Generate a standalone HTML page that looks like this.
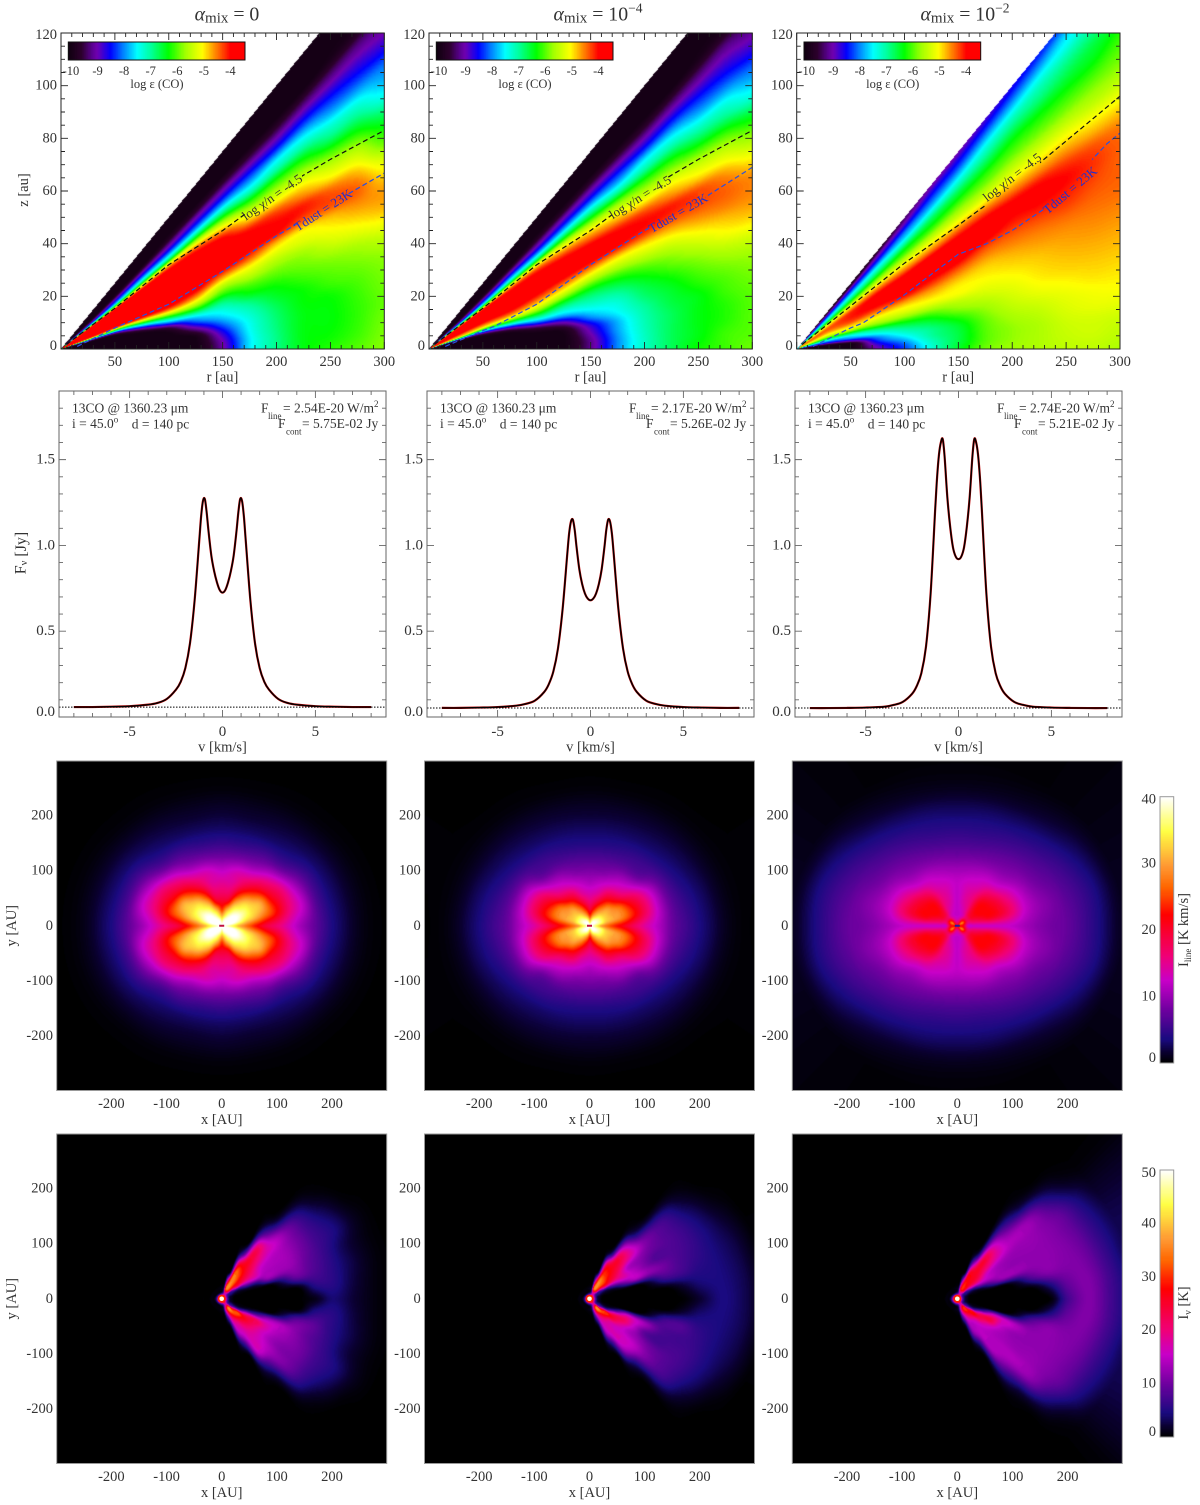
<!DOCTYPE html>
<html lang="en">
<head>
<meta charset="utf-8">
<title>CO abundance and line emission for three mixing strengths</title>
<style>
html,body{margin:0;padding:0;background:#fff;}
#figure{position:relative;width:1200px;height:1505px;overflow:hidden;background:#fff;filter:blur(0.35px);}
#figure canvas{position:absolute;display:block;}
#overlay{position:absolute;left:0;top:0;}
#overlay text{font-family:"Liberation Serif","DejaVu Serif",serif;fill:#333;}
</style>
</head>
<body>
<div id="figure">
<canvas id="abund0"></canvas>
<canvas id="abund1"></canvas>
<canvas id="abund2"></canvas>
<canvas id="abundbar0"></canvas>
<canvas id="abundbar1"></canvas>
<canvas id="abundbar2"></canvas>
<canvas id="mom0"></canvas>
<canvas id="mom1"></canvas>
<canvas id="mom2"></canvas>
<canvas id="chan0"></canvas>
<canvas id="chan1"></canvas>
<canvas id="chan2"></canvas>
<canvas id="mombar"></canvas>
<canvas id="chanbar"></canvas>
<svg id="overlay" width="1200" height="1505" xmlns="http://www.w3.org/2000/svg"></svg>
</div>
<script>
/* ---------- abundance maps: log eps(CO) on (radius, z/r) ---------- */
const abundRadii=[25,50,75,100,125,150,175,200,225,250,275,300];
const abundSlopes=[0,.02,.04,.06,.08,.1,.12,.14,.16,.18,.2,.22,.24,.26,.28,.3,.32,.34,.36,.38,.4,.42,.44,.46,.48,.5];
const logEpsAlpha0=[
[-10,-10,-10,-10,-10,-10,-9,-6,-4,-4,-4,-4,-4,-4,-4,-4,-6.5,-8,-9,-9.6,-10,-10,-10,-10,-10,-10],
[-10,-10,-10,-10,-10,-10,-9,-6.5,-4.2,-3.8,-3.8,-3.8,-3.8,-3.8,-3.8,-3.8,-6,-7.7,-8.5,-9.2,-9.8,-10,-10,-10,-10,-10],
[-10,-10,-10,-10,-10,-9.2,-7.5,-5.5,-4,-3.9,-3.9,-3.9,-3.9,-3.9,-3.9,-3.9,-5.3,-7,-8,-8.8,-9.5,-10,-10,-10,-10,-10],
[-10,-10,-10,-10,-9.5,-8,-6.5,-5,-4,-3.9,-3.9,-3.9,-3.9,-3.9,-3.9,-4,-5,-6.8,-7.9,-8.7,-9.3,-9.8,-10,-10,-10,-10],
[-10,-10,-9.9,-9.2,-8.3,-7.5,-6.3,-5.3,-4.5,-3.9,-3.8,-3.8,-3.8,-3.8,-3.8,-4.2,-5.2,-6.5,-7.7,-8.5,-9.1,-9.7,-10,-10,-10,-10],
[-9.1,-9,-8.7,-8.2,-7.7,-7.3,-6.8,-6.1,-5.5,-4.7,-4,-3.8,-3.8,-3.8,-4,-4.7,-5.6,-6.6,-7.6,-8.4,-9,-9.6,-10,-10,-10,-10],
[-7.6,-7.6,-7.5,-7.4,-7.2,-6.9,-6.4,-6,-5.5,-5,-4.3,-3.9,-3.9,-4.1,-4.8,-5.5,-6.2,-7.1,-7.8,-8.4,-9,-9.6,-10,-10,-10,-10],
[-6.9,-6.9,-6.85,-6.8,-6.7,-6.5,-6.3,-6,-5.7,-5.3,-4.8,-4,-4,-4.3,-5,-5.6,-6.2,-7,-7.6,-8.4,-9,-9.6,-10,-10,-10,-10],
[-6.4,-6.4,-6.4,-6.4,-6.35,-6.3,-6.1,-5.9,-5.7,-5.3,-5,-4.3,-4.1,-4.6,-5.1,-5.7,-6.3,-7,-7.6,-8.3,-8.9,-9.5,-10,-10,-10,-10],
[-6.2,-6.3,-6.35,-6.35,-6.3,-6.1,-5.95,-5.75,-5.4,-5.1,-4.8,-4.3,-4.4,-5,-5.5,-6.1,-6.8,-7.3,-7.9,-8.4,-8.9,-9.4,-9.9,-10,-10,-10],
[-6,-6.1,-6.15,-6.15,-6.1,-6,-5.85,-5.65,-5.25,-4.9,-4.6,-4.4,-4.7,-5.2,-5.7,-6.3,-6.9,-7.4,-8,-8.5,-8.9,-9.3,-9.8,-10,-10,-10],
[-5.8,-5.85,-5.9,-5.95,-5.9,-5.85,-5.75,-5.5,-5.1,-4.75,-4.65,-4.9,-5.3,-5.9,-6.3,-6.8,-7.4,-7.8,-8.1,-8.6,-9,-9.3,-9.7,-10,-10,-10]];
const logEpsAlpha1=[
[-10,-10,-10,-10,-10,-10,-9.5,-7,-5,-4.5,-4,-4,-4,-4,-4,-4.2,-6.5,-8,-9,-9.6,-10,-10,-10,-10,-10,-10],
[-10,-10,-10,-10,-10,-9.9,-9,-7,-5.2,-4.5,-4,-3.9,-3.9,-3.9,-3.9,-4.1,-6,-7.6,-8.5,-9.2,-9.8,-10,-10,-10,-10,-10],
[-10,-10,-10,-10,-10,-9.3,-7.8,-6.2,-5,-4.3,-3.9,-3.8,-3.8,-3.8,-3.9,-4.2,-5.3,-7,-8,-8.8,-9.5,-10,-10,-10,-10,-10],
[-10,-10,-10,-10,-9.5,-8.2,-7,-6,-5.2,-4.6,-4.1,-3.8,-3.8,-3.8,-3.9,-4.3,-5.2,-6.8,-7.9,-8.7,-9.3,-9.8,-10,-10,-10,-10],
[-10,-10,-10,-9.8,-9,-7.9,-7.2,-6.5,-5.7,-5,-4.4,-3.9,-3.8,-3.8,-4.1,-4.7,-5.5,-6.6,-7.7,-8.5,-9.1,-9.7,-10,-10,-10,-10],
[-9.2,-9.2,-9,-8.7,-8,-7.5,-7.1,-6.7,-6.1,-5.4,-4.7,-4,-3.8,-3.9,-4.4,-5,-5.8,-6.7,-7.6,-8.4,-9,-9.6,-10,-10,-10,-10],
[-8,-8,-7.9,-7.8,-7.5,-7.3,-7,-6.6,-6.1,-5.5,-4.9,-4.1,-3.9,-4.1,-4.7,-5.3,-6,-7,-7.8,-8.4,-9,-9.6,-10,-10,-10,-10],
[-7.2,-7.2,-7.15,-7.1,-7,-6.8,-6.6,-6.3,-5.9,-5.4,-4.9,-4.2,-4,-4.3,-5,-5.6,-6.2,-7,-7.6,-8.4,-9,-9.6,-10,-10,-10,-10],
[-6.7,-6.7,-6.7,-6.7,-6.6,-6.5,-6.3,-6,-5.7,-5.3,-4.8,-4.3,-4.1,-4.6,-5.1,-5.7,-6.3,-7,-7.6,-8.3,-8.9,-9.5,-10,-10,-10,-10],
[-6.3,-6.4,-6.4,-6.4,-6.4,-6.2,-6,-5.75,-5.4,-5,-4.6,-4.3,-4.3,-4.9,-5.4,-6,-6.7,-7.3,-7.9,-8.4,-8.9,-9.4,-9.9,-10,-10,-10],
[-6.1,-6.1,-6.2,-6.2,-6.1,-6,-5.8,-5.5,-5.1,-4.8,-4.5,-4.4,-4.6,-5.1,-5.6,-6.2,-6.9,-7.4,-8,-8.5,-8.9,-9.3,-9.8,-10,-10,-10],
[-5.9,-6,-6,-6,-5.95,-5.85,-5.7,-5.4,-5,-4.7,-4.55,-4.6,-5,-5.5,-6,-6.6,-7.3,-7.8,-8.2,-8.7,-9.1,-9.5,-9.9,-10,-10,-10]];
const logEpsAlpha2=[
[-10,-10,-10,-9.6,-8.7,-8,-7.3,-6.5,-5.8,-5.3,-5,-4.7,-4.5,-4.4,-4.5,-4.8,-5.2,-5.8,-6.5,-7,-7.5,-8,-8.5,-9,-9.6,-10],
[-10,-10,-10,-9,-8,-7.5,-6.6,-5.7,-5.1,-4.8,-4.4,-4.2,-4.1,-4.1,-4.2,-4.6,-5,-5.6,-6.2,-6.8,-7.3,-7.8,-8.3,-8.8,-9.5,-10],
[-9,-8.8,-8.4,-8,-7.4,-6.8,-6,-5.5,-5.1,-4.7,-4.3,-4,-3.9,-3.9,-4,-4.4,-4.9,-5.5,-6,-6.6,-7.1,-7.6,-8.2,-8.7,-9.2,-9.8],
[-8.3,-8.1,-7.7,-7.3,-6.9,-6.4,-5.8,-5.3,-5,-4.6,-4.1,-3.9,-3.8,-3.8,-4,-4.5,-5,-5.5,-6,-6.4,-7,-7.6,-8,-8.5,-9,-9.4],
[-7.3,-7.2,-7,-6.9,-6.6,-6.2,-5.7,-5.2,-4.9,-4.6,-4.2,-3.9,-3.75,-3.75,-3.9,-4.5,-5,-5.5,-6,-6.4,-6.8,-7.4,-7.9,-8.3,-8.7,-9.1],
[-6.5,-6.6,-6.6,-6.5,-6.2,-5.8,-5.5,-5.1,-5,-4.75,-4.4,-4,-3.75,-3.7,-3.9,-4.4,-5,-5.5,-5.9,-6.3,-6.7,-7.2,-7.7,-8.2,-8.6,-9],
[-5.9,-6,-6,-5.95,-5.8,-5.6,-5.35,-5.15,-5,-4.85,-4.6,-4.3,-3.9,-3.75,-3.9,-4.4,-5,-5.5,-5.9,-6.2,-6.6,-7,-7.4,-7.9,-8.4,-8.8],
[-5.7,-5.75,-5.75,-5.65,-5.5,-5.35,-5.2,-5.05,-4.9,-4.75,-4.55,-4.35,-4.1,-3.95,-4,-4.5,-5,-5.4,-5.8,-6.1,-6.4,-6.8,-7.2,-7.7,-8.2,-8.6],
[-5.6,-5.6,-5.6,-5.5,-5.35,-5.15,-5,-4.9,-4.8,-4.65,-4.5,-4.3,-4.05,-3.9,-4.05,-4.55,-5,-5.4,-5.8,-6.1,-6.4,-6.8,-7.1,-7.5,-8,-8.4],
[-5.5,-5.45,-5.4,-5.3,-5.2,-5.05,-4.9,-4.8,-4.7,-4.6,-4.45,-4.25,-4.1,-4,-4.2,-4.6,-5,-5.4,-5.8,-6.1,-6.4,-6.7,-7,-7.4,-7.7,-8.2],
[-5.5,-5.4,-5.35,-5.2,-5.1,-4.95,-4.85,-4.75,-4.65,-4.55,-4.45,-4.35,-4.25,-4.2,-4.35,-4.75,-5.1,-5.5,-5.8,-6.1,-6.4,-6.6,-6.9,-7.2,-7.6,-8],
[-5.6,-5.5,-5.4,-5.2,-5.05,-4.95,-4.85,-4.75,-4.65,-4.55,-4.45,-4.4,-4.4,-4.4,-4.5,-4.8,-5.15,-5.5,-5.8,-6,-6.2,-6.5,-6.8,-7.1,-7.5,-7.9]];

/* contour lines: radius, height in au */
const chiRadii=[[5,50,100,150,200,250,300],[5,50,100,150,200,250,300],[5,50,100,150,200,250,300]];
const chiHeights=[[1.7,15.5,32,45,60,72,83],[1.7,15.5,32,45,60,72,83],[1.7,16.3,32.6,47,62,79,96]];
const dustRadii=[[15,50,100,150,200,250,300],[15,50,60,100,150,200,250,300],[15,50,62,100,127,150,176,200,229,250,271,288,300]];
const dustHeights=[[1,8,17,29.5,43,55,66.8],[1,7,8.5,17,32,45,56,69],[1,8,10,20.6,29,36,40,45,53,60,70.6,78,82]];

/* line profiles: half of the symmetric spectrum, outside in */
const speedsHalf=[8,7,6,5,4,3.5,3,2.5,2.25,2,1.75,1.5,1.25,1.15,1.05,.95,.85,.75,.6,.45,.3,.15,0];
const fluxAlpha0=[.058,.058,.06,.063,.072,.082,.105,.16,.205,.285,.43,.68,1.03,1.17,1.26,1.27,1.19,1.08,.94,.85,.785,.74,.725];
const fluxAlpha1=[.053,.053,.055,.058,.066,.076,.095,.145,.19,.265,.4,.63,.95,1.07,1.14,1.15,1.09,.99,.86,.775,.72,.69,.68];
const fluxAlpha2=[.052,.052,.053,.055,.06,.07,.088,.135,.18,.255,.41,.72,1.22,1.4,1.53,1.6,1.62,1.52,1.28,1.11,.99,.935,.92];
const continuumFlux=[.0575,.0526,.0521];
const lineFluxText=["2.54E-20","2.17E-20","2.74E-20"];
const contFluxText=["5.75E-02","5.26E-02","5.21E-02"];

/* integrated intensity: K km/s on (angle, radius), one quadrant */
const momAngles=[0,15,30,45,60,75,90];
const momRadii=[0,10,20,30,45,60,80,100,125,150,175,200,250,300];
const momAlpha0=[
[40,38,35,31,27,23,19,16.5,13,9.5,6.5,3.7,.8,0],
[40,40,40,38,34,31.5,27.5,23,16.5,12,6.5,3.5,.8,0],
[40,40,40,40,37,33.5,30.5,22,16.5,10.5,6,3.2,.7,0],
[40,40,40,39,35,32,25,19,13,7,4,2.5,.5,0],
[40,40,38,35,31,25.5,19.5,15,9.5,6,3.3,2,.4,0],
[40,39,34,30,22,18,15,13.5,8.5,5,3,1.7,.3,0],
[40,36,30,24,20,17,14.5,12,8,5,3,1.8,.3,0]];
const momAlpha1=[
[40,36,30,27,23.5,21,17.5,14.3,11.2,7.5,5.5,3.6,.8,0],
[40,38,36,32,30,28,23.5,18.5,12.5,7.5,5,3.3,.7,.1],
[40,40,37,33,30,28,22,17.5,12,7,4.2,2.7,.6,.1],
[40,40,36,32,29,23,16.5,12.5,7.5,5.5,3.5,2.3,.5,0],
[40,39,33,29,24,19.5,14,10.5,6.8,4.8,3.1,2,.4,0],
[40,36,29,24,19,15,12,8.8,6.3,4.2,2.9,1.8,.3,0],
[40,31,23,19.5,16,13.5,10.8,8.5,6,4,2.8,1.7,.3,0]];
const momAlpha2=[
[20,22,12.5,12.5,12.5,12.5,12.5,12,10.5,9,8,7.3,4.2,1],
[20,24,16,17,19,21,20,17,12.5,10,8.5,7,4.2,1],
[20,28,18,20,22,22,20,16,12,9,7.3,6,3.2,.7],
[20,24,17,19,21,21,17.5,13,9.8,8,6.3,4.7,2,.4],
[20,18,14,15,16,16,14,12,9,7,5.3,3.8,1.3,.2],
[20,15,12.5,13,14,14,13,11,8.4,6.2,4.6,3.4,1,.2],
[20,14,12,12,12,12,12,10.5,8,6,4.5,3.2,.9,.2]];

/* channel maps: K on (angle from +x, radius) around the star; rows may omit trailing zeros */
const chanAngles=[0,8,16,24,32,40,48,56,64,72,80,90,120,180];
const chanRadii=[0,10,20,35,50,70,90,115,140,170,200,240,280,320];
const chanUpperAlpha0=[
[50,8,.3,0,0,0,0,0,0,1,4,2,.5],
[50,8,.5,0,0,0,0,0,.2,5,5.5,2.5,.6],
[50,8,1,.3,0,.1,.3,4,9,8,6,3,.8],
[50,9,3,1.5,3,5,12,12,12,9,6.5,3,.8],
[50,10,5,6,12,16,14,13.5,13,10,7,4.5,1.2],
[50,12,8,22,22,20,16,14.5,13.5,10.5,7,3.5,.5],
[50,14,24,28,27,24,21,18,15,10,6,1.5],
[50,16,32,34,32,27,24,20,9,2,.3],
[50,18,36,35,33,24,8,.5],
[50,14,30,20,3,.2],
[50,9,4,.5],
[50,6,1],
[50,4,.3],
[50,6,.5,.1]];
const chanLowerAlpha0=[
[50,8,.3,0,0,0,0,0,0,1,4,2,.5],
[50,8,.5,0,0,0,0,0,.2,5,5.5,2.5,.6],
[50,8,1,.3,0,.1,.3,4,9,9,6,3,.8],
[50,9,3,1.5,4,8,13,14,12,9,6.5,3,.8],
[50,10,6,8,18,22,18,14,12,10,7,4.5,1.2],
[50,14,12,30,27,22,17,13,11,10,7,3.5,.5],
[50,18,32,32,25,20,17,15,12,9.5,6,1.5],
[50,18,36,28,20,17,16,15,7,2,.3],
[50,16,28,20,16,13,6,.5],
[50,12,16,8,2,.2],
[50,8,3,.4],
[50,6,1],
[50,4,.3],
[50,6,.5,.1]];
const chanUpperAlpha1=[
[50,8,.4,0,0,0,0,0,0,.1,2,4.5,3,.5],
[50,8,.6,0,0,0,0,0,.1,2,4,4.5,3,.5],
[50,8,1,.3,0,.1,.3,3,7,7,5.5,4.5,2.8,.3],
[50,9,3,1.5,3,9,14,12,10.5,8,6.5,4.5,2.5,.2],
[50,10,5,6,12,17,15,11,8,8,7,4.5,1.8],
[50,12,8,22,23,20,14,12,10,8.5,7,3.8,.8],
[50,14,24,30,27,24,21,17,11,8,6,2,.1],
[50,16,32,34,30,26,23,14,4,.8,.1],
[50,18,36,35,28,22,5,.3],
[50,14,30,18,3,.2],
[50,9,4,.5],
[50,6,1],
[50,4,.3],
[50,6,.5,.1]];
const chanLowerAlpha1=[
[50,8,.4,0,0,0,0,0,0,.1,2,4.5,3,.5],
[50,8,.6,0,0,0,0,0,.1,2,4,4.5,3,.5],
[50,8,1,.3,0,.1,.3,3,7,8,6,4.5,2.8,.3],
[50,9,3,1.5,6,16,15,12,8,7,6.5,4.5,2.5,.2],
[50,10,6,8,20,22,16,9,7,7.5,7,4.5,1.8],
[50,14,12,30,26,19,14,12,10,8.5,7,3.8,.8],
[50,18,34,30,20,16,16,15,11,8,6,2,.1],
[50,18,36,24,18,17,16,12,4,.8,.1],
[50,16,26,18,15,13,5,.3],
[50,12,14,8,2,.2],
[50,8,3,.4],
[50,6,1],
[50,4,.3],
[50,6,.5,.1]];
const chanUpperAlpha2=[
[50,9,.5,0,0,0,0,0,0,.1,7,11,7,3.5],
[50,9,.6,0,0,0,0,0,.2,4,9,11,7,3.5],
[50,9,1,.3,0,.1,.3,3,8,11,11,10.5,6.5,3],
[50,9,3,1.5,3,8,12,12.5,12,12,11.5,10,6,3],
[50,10,5,6,12,14,13,12,12,12,11.5,9.5,5.5,2.5],
[50,12,8,18,20,16,14,13,12.5,12.5,11.5,9,4.5,1.5],
[50,14,24,25,25,22,20,17,14,13,11,5.5,1.5,.3],
[50,16,28,27,26,25,23,16,10,6,2.5,.6,.1],
[50,18,30,28,26,14,4,.5,.1],
[50,14,24,14,2,.2],
[50,9,4,.5],
[50,6,1],
[50,4,.3],
[50,6,.5,.1]];
const chanLowerAlpha2=[
[50,9,.5,0,0,0,0,0,0,.1,7,11,7,3.5],
[50,9,.6,0,0,0,0,0,.2,4,9,11,7,3.5],
[50,9,1,.3,0,.1,.3,3,8,11,11,10.5,6.5,3],
[50,9,3,1.5,6,16,16,14,12,12,11.5,10,6,3],
[50,10,6,8,20,24,16,12.5,12,12,11.5,9.5,5.5,2.5],
[50,14,12,28,24,18,14,13,12.5,12.5,11.5,9,4.5,1.5],
[50,18,30,26,18,15,14,14,14,13,11,5.5,1.5,.3],
[50,18,30,22,15,14.5,14,13,10,6,2.5,.6,.1],
[50,16,24,16,13,11,4,.5,.1],
[50,12,14,8,2,.2],
[50,8,3,.4],
[50,6,1],
[50,4,.3],
[50,6,.5,.1]];

/* tick labels */
const abundZTicks=[0,20,40,60,80,100,120];
const abundRTicks=[50,100,150,200,250,300];
const abundBarTicks=[-10,-9,-8,-7,-6,-5,-4];
const fluxTicks=[0,.5,1,1.5];
const speedTicks=[-5,0,5];
const mapTicks=[-200,-100,0,100,200];
const momBarTicks=[0,10,20,30,40];
const chanBarTicks=[0,10,20,30,40,50];

/* ---------- layout ---------- */
const NS="http://www.w3.org/2000/svg";
const svg=document.getElementById("overlay");
const abundLeft=[61,429,796.7], abundTop=33, abundW=323.3, abundH=316;
const specLeft=[59,427,795], specTop=391, specW=327, specH=326;
const mapLeft=[56.7,424.5,792.3], mapW=330, mapH=329.5, momTop=761, chanTop=1134;
const mapHalf=299.2;

function hex(s){return [parseInt(s.slice(1,3),16),parseInt(s.slice(3,5),16),parseInt(s.slice(5,7),16)];}
function buildLut(pos,cols){
  const lut=[];
  for(let i=0;i<256;i++){
    const t=i/255;let k=0;
    while(k<pos.length-2&&t>pos[k+1])k++;
    const f=Math.min(1,Math.max(0,(t-pos[k])/(pos[k+1]-pos[k])));
    const a=hex(cols[k]),b=hex(cols[k+1]);
    lut.push([a[0]+(b[0]-a[0])*f,a[1]+(b[1]-a[1])*f,a[2]+(b[2]-a[2])*f]);
  }
  return lut;
}
const abundMin=-10.1,abundMax=-3.45;
const abundStopVals=[-10.1,-9.6,-9.2,-9,-8.5,-8,-7.5,-7,-6.33,-5.7,-5.05,-4.6,-4,-3.45];
const abundStopCols=["#0f000f","#2c002c","#5a0090","#7000b0","#0000ff","#0088ff","#00ffff","#00ffa0","#00ff00","#a0ff00","#ffff00","#ff9000","#ff0000","#ff0000"];
const abundLut=buildLut(abundStopVals.map(v=>(v-abundMin)/(abundMax-abundMin)),abundStopCols);
const heatLut=buildLut([0,.04,.09,.2,.31,.4,.556,.66,.74,.87,1],["#000000","#0a0030","#1a0a80","#7000a0","#c800c8","#f00078","#ff0000","#ff6600","#ff9933","#ffff44","#ffffff"]);

function fracIndex(arr,v){
  const n=arr.length-1;
  if(v<=arr[0])return 0;
  if(v>=arr[n])return n;
  let k=0;while(arr[k+1]<v)k++;
  return k+(v-arr[k])/(arr[k+1]-arr[k]);
}
function spline(a,b,c,d,t){
  return .5*(2*b+(c-a)*t+(2*a-5*b+4*c-d)*t*t+(3*b-a-3*c+d)*t*t*t);
}
/* shaded display of a sampled grid (like gouraud shading, limited to the local cell range) */
function shade(rows,cols,grid,r,c){
  const fr=fracIndex(rows,r),fc=fracIndex(cols,c);
  const nr=rows.length-1,nc=cols.length-1;
  const i=Math.min(Math.floor(fr),nr),j=Math.min(Math.floor(fc),nc);
  const tr=fr-i,tc=fc-j;
  const cell=function(a,b){
    const row=grid[Math.max(0,Math.min(nr,a))];
    const v=row[Math.max(0,Math.min(nc,b))];
    return v===undefined?0:v;
  };
  const line=[];
  for(let k=-1;k<=2;k++)line.push(spline(cell(i+k,j-1),cell(i+k,j),cell(i+k,j+1),cell(i+k,j+2),tc));
  const val=spline(line[0],line[1],line[2],line[3],tr);
  const q=[cell(i,j),cell(i,j+1),cell(i+1,j),cell(i+1,j+1)];
  return Math.max(Math.min.apply(null,q),Math.min(Math.max.apply(null,q),val));
}
function paint(id,x,y,w,h,fn){
  const c=document.getElementById(id);
  const W=Math.round(w),H=Math.round(h);
  c.width=W;c.height=H;
  c.style.left=x+"px";c.style.top=y+"px";c.style.width=w+"px";c.style.height=h+"px";
  const ctx=c.getContext("2d"),img=ctx.createImageData(W,H),d=img.data;
  for(let j=0;j<H;j++)for(let i=0;i<W;i++){
    const col=fn((i+.5)/W,(j+.5)/H),o=(j*W+i)*4;
    if(col){d[o]=col[0];d[o+1]=col[1];d[o+2]=col[2];d[o+3]=255;}
    else{d[o]=255;d[o+1]=255;d[o+2]=255;d[o+3]=255;}
  }
  ctx.putImageData(img,0,0);
}
function lutColor(lut,t){return lut[Math.max(0,Math.min(255,Math.round(t*255)))];}

/* ---------- svg helpers ---------- */
function mk(tag,attrs,parent){
  const e=document.createElementNS(NS,tag);
  for(const k in attrs)e.setAttribute(k,attrs[k]);
  (parent||svg).appendChild(e);
  return e;
}
function label(x,y,html,size,anchor,parent,rot){
  const a={x:x,y:y,"font-size":size,"text-anchor":anchor||"middle","dominant-baseline":"central"};
  if(rot!==undefined)a.transform="rotate("+rot+" "+x+" "+y+")";
  const t=mk("text",a,parent);
  t.innerHTML=html;
  return t;
}
function group(parent){return mk("g",{},parent);}
function smoothPath(px,py){
  let d="M"+px[0].toFixed(2)+" "+py[0].toFixed(2);
  const n=px.length;
  for(let i=0;i<n-1;i++){
    const a=Math.max(0,i-1),b=i+1,c=Math.min(n-1,i+2);
    const c1x=px[i]+(px[b]-px[a])/6,c1y=py[i]+(py[b]-py[a])/6;
    const c2x=px[b]-(px[c]-px[i])/6,c2y=py[b]-(py[c]-py[i])/6;
    d+="C"+c1x.toFixed(2)+" "+c1y.toFixed(2)+" "+c2x.toFixed(2)+" "+c2y.toFixed(2)+" "+px[b].toFixed(2)+" "+py[b].toFixed(2);
  }
  return d;
}

/* ---------- abundance row ---------- */
const abundGrids=[logEpsAlpha0,logEpsAlpha1,logEpsAlpha2];
const titleHtml=[
 '<tspan font-style="italic">α</tspan><tspan font-size="15" dy="4">mix</tspan><tspan dy="-4"> = 0</tspan>',
 '<tspan font-style="italic">α</tspan><tspan font-size="15" dy="4">mix</tspan><tspan dy="-4"> = 10</tspan><tspan font-size="13.5" dy="-7">−4</tspan>',
 '<tspan font-style="italic">α</tspan><tspan font-size="15" dy="4">mix</tspan><tspan dy="-4"> = 10</tspan><tspan font-size="13.5" dy="-7">−2</tspan>'];
const titleCenter=[227,598,965];
const chiGap=[[245,302],[612,668],[985,1040]];
const dustGap=[[297,347],[650,705],[1047,1092]];
const chiLabelPos=[[272,197,-35],[640,197,-32],[1012,177,-38]];
const dustLabelPos=[[323,210,-33],[678,213,-30],[1070,190,-40]];

abundGrids.forEach(function(grid,p){
  const L=abundLeft[p];
  const rx=function(r){return L+r/300*abundW;};
  const zy=function(z){return abundTop+abundH-z/120*abundH;};
  paint("abund"+p,L,abundTop,abundW,abundH,function(u,v){
    const r=u*300,z=(1-v)*120,s=z/r;
    if(s>.5)return null;
    const val=shade(abundRadii,abundSlopes,grid,r,s);
    return lutColor(abundLut,(val-abundMin)/(abundMax-abundMin));
  });
  const g=group();
  
  

  const ttl=label(titleCenter[p],14.5,titleHtml[p],19.8,"middle",g);
  
  

  const clipId="gapclip"+p;
  function gapPath(xs,zs,gap,color,name,cid){
    const cp=mk("clipPath",{id:cid},g);
    mk("rect",{x:L,y:abundTop,width:gap[0]-L,height:abundH},cp);
    mk("rect",{x:gap[1],y:abundTop,width:L+abundW-gap[1],height:abundH},cp);
    const d=xs.map(function(r,i){return (i?"L":"M")+rx(r).toFixed(1)+" "+zy(zs[i]).toFixed(1);}).join("");
    const pth=mk("path",{d:d,fill:"none",stroke:color,"stroke-width":1.2,"stroke-dasharray":"5 3","clip-path":"url(#"+cid+")"},g);
    
    
  }
  gapPath(chiRadii[p],chiHeights[p],chiGap[p],"#111","chi-contour",clipId+"a");
  gapPath(dustRadii[p],dustHeights[p],dustGap[p],"#2a50e0","tdust-contour",clipId+"b");

  const cl=label(chiLabelPos[p][0],chiLabelPos[p][1],'log χ/n = -4.5',13,"middle",g,chiLabelPos[p][2]);
  
  
  const dl=label(dustLabelPos[p][0],dustLabelPos[p][1],'Tdust = 23K',13,"middle",g,dustLabelPos[p][2]);
  
  
  dl.style.fill="#2030d0";

  let ticks="";
  for(let z=0;z<=120;z+=5){
    const len=z%20===0?7:4;
    ticks+="M"+L+" "+zy(z)+"h"+len+"M"+(L+abundW)+" "+zy(z)+"h"+(-len);
  }
  for(let r=0;r<=300;r+=10){
    const len=r%50===0?7:4;
    ticks+="M"+rx(r)+" "+(abundTop+abundH)+"v"+(-len)+"M"+rx(r)+" "+abundTop+"v"+len;
  }
  const tk=mk("path",{d:ticks,fill:"none",stroke:"#222","stroke-width":.9},g);
  
  
  const fr=mk("rect",{x:L,y:abundTop,width:abundW,height:abundH,fill:"none",stroke:"#222","stroke-width":1},g);
  
  

  abundZTicks.forEach(function(z){
    const sh=z===0?-3:(z===120?2:0);
    const t=label(L-4,zy(z)+sh,String(z),14.5,"end",g);
    
    
  });
  abundRTicks.forEach(function(r){
    const t=label(rx(r),362,String(r),14.5,"middle",g);
    
    
  });
  const xt=label(L+161.5,377.5,"r [au]",14.5,"middle",g);
  
  
  if(p===0){
    const yt=label(24,190,"z [au]",14.5,"middle",g,-90);
    
    
  }

  /* inset colorbar */
  const bx=L+7.3,bw=176.7,by=42,bh=18;
  paint("abundbar"+p,bx,by,bw,bh,function(u){return abundLut[Math.round(u*255)];});
  const bf=mk("rect",{x:bx,y:by,width:bw,height:bh,fill:"none",stroke:"#111","stroke-width":1},g);
  
  
  abundBarTicks.forEach(function(v){
    const t=label(bx+(v-abundMin)/(abundMax-abundMin)*bw,71,String(v),12.5,"middle",g);
    
    
  });
  const bt=label(L+96,84,"log ε (CO)",12.5,"middle",g);
  
  
});

/* ---------- spectra row ---------- */
const fluxSeries=[fluxAlpha0,fluxAlpha1,fluxAlpha2];
fluxSeries.forEach(function(flux,p){
  const L=specLeft[p];
  const vx=function(v){return L+(v+8.8)/17.6*specW;};
  const fy=function(f){return specTop+specH-f/1.9*specH;};
  const g=group();
  
  
  const vs=[],fs=[];
  speedsHalf.forEach(function(s,i){vs.push(-s);fs.push(flux[i]);});
  for(let i=speedsHalf.length-2;i>=0;i--){vs.push(speedsHalf[i]);fs.push(flux[i]);}
  const d=smoothPath(vs.map(vx),fs.map(fy));
  const red=mk("path",{d:d,fill:"none",stroke:"#c00000","stroke-width":2.2},g);
  
  
  const blk=mk("path",{d:d,fill:"none",stroke:"#000","stroke-width":1.4},g);
  
  
  const cy=fy(continuumFlux[p]);
  const cont=mk("line",{x1:L,x2:L+specW,y1:cy,y2:cy,stroke:"#000","stroke-width":1,"stroke-dasharray":"1.5 1.5"},g);
  
  

  let ticks="";
  for(let i=0;i<=19;i++){
    const f=i/10,len=i%5===0?7:4;
    ticks+="M"+L+" "+fy(f)+"h"+len+"M"+(L+specW)+" "+fy(f)+"h"+(-len);
  }
  for(let v=-8;v<=8;v++){
    const len=v%5===0?7:4;
    ticks+="M"+vx(v)+" "+(specTop+specH)+"v"+(-len)+"M"+vx(v)+" "+specTop+"v"+len;
  }
  const tk=mk("path",{d:ticks,fill:"none",stroke:"#666","stroke-width":.9},g);
  
  
  const fr=mk("rect",{x:L,y:specTop,width:specW,height:specH,fill:"none",stroke:"#666","stroke-width":1},g);
  
  

  fluxTicks.forEach(function(f){
    const sh=f===0?-5:0;
    const t=label(L-4,fy(f)+sh,f.toFixed(1),15,"end",g);
    
    
  });
  speedTicks.forEach(function(v){
    const t=label(vx(v),732,String(v),15,"middle",g);
    
    
  });
  const xt=label(L+163.5,747.5,"v [km/s]",14.5,"middle",g);
  
  
  if(p===0){
    const yt=label(21,553,'F<tspan font-size="10.5" dy="3">ν</tspan><tspan dy="-3"> [Jy]</tspan>',16,"middle",g,-90);
    
    
  }
  const a1=label(L+13,408,"13CO @ 1360.23 μm",13.5,"start",g);
  
  
  const a2=label(L+13,423.5,'i = 45.0<tspan font-size="9" dy="-4">o</tspan><tspan dy="4" xml:space="preserve">    d = 140 pc</tspan>',13.5,"start",g);
  
  
  const b1=label(L+202,408,"F",13.5,"start",g);
  
  
  const b2=label(L+209,416,"line",9,"start",g);
  
  
  const b3=label(L+224,408,"= "+lineFluxText[p]+' W/m<tspan font-size="9" dy="-4">2</tspan>',13.5,"start",g);
  
  
  const c1=label(L+219,423.5,"F",13.5,"start",g);
  
  
  const c2=label(L+227,431.5,"cont",9,"start",g);
  
  
  const c3=label(L+243,423.5,"= "+contFluxText[p]+" Jy",13.5,"start",g);
  
  
});

/* ---------- image rows ---------- */
function mapAxes(p,top,labelX,kind){
  const L=mapLeft[p];
  const scale=mapW/2/mapHalf;
  const cx=L+mapW/2,cy=top+mapH/2;
  const g=group();
  
  
  const fr=mk("rect",{x:L,y:top,width:mapW,height:mapH,fill:"none",stroke:"#999","stroke-width":1},g);
  
  
  mapTicks.forEach(function(v){
    const tx=label(cx+v*scale,top+343,String(v),14.5,"middle",g);
    
    
    const ty=label(labelX,cy-v*scale,String(v),14.5,"end",g);
    
    
  });
  const xt=label(cx,top+359,"x [AU]",14.5,"middle",g);
  
  
  if(p===0){
    const yt=label(12,cy,"y [AU]",14.5,"middle",g,-90);
    
    
  }
  return g;
}
const tickLabelRight=[53,420.7,788.4];
[momAlpha0,momAlpha1,momAlpha2].forEach(function(grid,p){
  paint("mom"+p,mapLeft[p],momTop,mapW,mapH,function(u,v){
    const x=(u-.5)*2*mapHalf,y=(.5-v)*2*mapHalf;
    const r=Math.sqrt(x*x+y*y),ang=Math.atan2(Math.abs(y),Math.abs(x))*180/Math.PI;
    return lutColor(heatLut,shade(momAngles,momRadii,grid,ang,r)/40);
  });
  const g=mapAxes(p,momTop,tickLabelRight[p],"intensity");
  const hole=mk("rect",{x:mapLeft[p]+mapW/2-2.5,y:momTop+mapH/2-1,width:5,height:2,fill:p===2?"#2020a0":"#c01040"},g);
  
  
});
const chanUpper=[chanUpperAlpha0,chanUpperAlpha1,chanUpperAlpha2];
const chanLower=[chanLowerAlpha0,chanLowerAlpha1,chanLowerAlpha2];
chanUpper.forEach(function(gridUp,p){
  const gridDown=chanLower[p];
  paint("chan"+p,mapLeft[p],chanTop,mapW,mapH,function(u,v){
    const x=(u-.5)*2*mapHalf,y=(.5-v)*2*mapHalf;
    const r=Math.sqrt(x*x+y*y),ang=Math.atan2(Math.abs(y),x)*180/Math.PI;
    const val=shade(chanAngles,chanRadii,y>=0?gridUp:gridDown,ang,r);
    return lutColor(heatLut,val/50);
  });
  const g=mapAxes(p,chanTop,tickLabelRight[p],"channel");
  const cx=mapLeft[p]+mapW/2,cy=chanTop+mapH/2;
  const halo=mk("circle",{cx:cx,cy:cy,r:4,fill:"#ff2000"},g);
  
  
  const star=mk("circle",{cx:cx,cy:cy,r:2.3,fill:"#ffffe0"},g);
  
  
});

/* ---------- vertical colorbars ---------- */
function vbar(id,top,bottom,max,ticks,titleHtmlStr,titleY,name){
  const x=1160,w=13.7;
  paint(id,x,top,w,bottom-top,function(u,v){return heatLut[Math.round((1-v)*255)];});
  const g=group();
  
  
  const fr=mk("rect",{x:x,y:top,width:w,height:bottom-top,fill:"none",stroke:"#999","stroke-width":1},g);
  
  
  ticks.forEach(function(v){
    const sh=v===0?-5:(v===max?3:0);
    const t=label(1156,bottom-v/max*(bottom-top)+sh,String(v),14.5,"end",g);
    
    
  });
  const tt=label(1184,titleY,titleHtmlStr,14.5,"middle",g,-90);
  
  
}
vbar("mombar",796.7,1063,40,momBarTicks,'I<tspan font-size="9" dy="4">line</tspan><tspan dy="-4"> [K km/s]</tspan>',930,"integrated-intensity-colorbar-axis");
vbar("chanbar",1170,1437,50,chanBarTicks,'I<tspan font-size="10" dy="4">ν</tspan><tspan dy="-4"> [K]</tspan>',1303,"channel-intensity-colorbar-axis");
</script>
</body>
</html>
